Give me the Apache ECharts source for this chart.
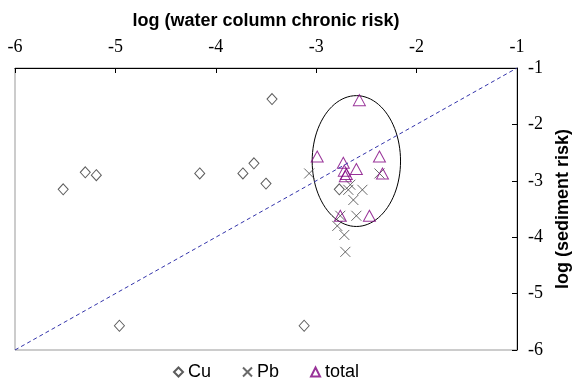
<!DOCTYPE html>
<html>
<head>
<meta charset="utf-8">
<script src="https://cdn.jsdelivr.net/npm/echarts@6/dist/echarts.min.js"></script>
</head>
<body style="margin:0">
<div id="main" style="width:574px;height:387px;"></div>
<script type="text/javascript">
// [log water column risk, log sediment risk]
var cuData = [
  [-5.52, -3.15], [-5.30, -2.85], [-5.19, -2.90], [-4.16, -2.87],
  [-3.73, -2.87], [-3.62, -2.69], [-3.50, -3.05], [-3.44, -1.55],
  [-4.96, -5.57], [-3.12, -5.57], [-2.77, -3.15]
];
var pbData = [
  [-3.07, -2.87], [-2.37, -2.87], [-2.66, -3.07], [-2.68, -3.16],
  [-2.54, -3.16], [-2.63, -3.34], [-2.60, -3.62], [-2.76, -3.62],
  [-2.79, -3.80], [-2.72, -3.96], [-2.71, -4.26]
];
var totalData = [
  [-2.57, -1.57], [-2.99, -2.57], [-2.73, -2.68], [-2.60, -2.79],
  [-2.37, -2.57], [-2.34, -2.87], [-2.72, -2.82], [-2.70, -2.88],
  [-2.71, -2.92], [-2.76, -3.62], [-2.47, -3.62]
];
var diagonal = [[-6, -6], [-1, -1]];
// center x, center y, radius x, radius y (data units)
var ellipse = [[-2.60, -2.65, 0.44, 1.16]];

var serif = '"Liberation Serif", "Times New Roman", serif';
var sans = '"Liberation Sans", Arial, sans-serif';

var myChart = echarts.init(document.getElementById('main'));

var option = {
  animation: false,
  backgroundColor: '#fff',
  grid: {
    left: 15, right: 57, top: 68, bottom: 37,
    outerBoundsMode: 'none',
    containLabel: false,
    show: true, borderColor: '#999', borderWidth: 1
  },
  legend: {
    bottom: 1,
    left: 168,
    itemWidth: 9,
    itemHeight: 9,
    itemGap: 31,
    textStyle: { fontFamily: sans, fontSize: 18, color: '#000' },
    data: ['Cu', 'Pb', 'total']
  },
  xAxis: {
    type: 'value',
    position: 'top',
    min: -6, max: -1, interval: 1,
    name: 'log (water column chronic risk)',
    nameLocation: 'middle',
    nameGap: 38,
    nameTextStyle: { fontFamily: sans, fontWeight: 'bold', fontSize: 18, color: '#000' },
    axisLine: { lineStyle: { color: '#000', width: 1 } },
    axisTick: { inside: true, length: 5, lineStyle: { color: '#000' } },
    axisLabel: { margin: 12, fontFamily: serif, fontSize: 18, color: '#000' },
    splitLine: { show: false }
  },
  yAxis: {
    type: 'value',
    position: 'right',
    min: -6, max: -1, interval: 1,
    name: 'log (sediment risk)',
    nameLocation: 'middle',
    nameRotate: 90,
    nameGap: 35,
    nameTextStyle: { fontFamily: sans, fontWeight: 'bold', fontSize: 18, color: '#000' },
    axisLine: { lineStyle: { color: '#000', width: 1 } },
    axisTick: { inside: true, length: 5, lineStyle: { color: '#000' } },
    axisLabel: { margin: 11, fontFamily: serif, fontSize: 18, color: '#000' },
    splitLine: { show: false }
  },
  series: [
    {
      name: 'diag',
      type: 'line',
      data: diagonal,
      symbol: 'none',
      silent: true,
      lineStyle: { color: '#3333aa', width: 1, type: [4, 3] }
    },
    {
      name: 'ellipse',
      type: 'custom',
      silent: true,
      data: ellipse,
      encode: { x: 0, y: 1 },
      renderItem: function (params, api) {
        var c = api.coord([api.value(0), api.value(1)]);
        var ex = api.coord([api.value(0) + api.value(2), api.value(1)]);
        var ey = api.coord([api.value(0), api.value(1) + api.value(3)]);
        var rx = Math.abs(ex[0] - c[0]);
        var ry = Math.abs(ey[1] - c[1]);
        var pts = [];
        for (var i = 0; i < 96; i++) {
          var t = i / 96 * Math.PI * 2;
          pts.push([c[0] + rx * Math.cos(t), c[1] + ry * Math.sin(t)]);
        }
        return {
          type: 'polygon',
          shape: { points: pts },
          style: { fill: 'none', stroke: '#000', lineWidth: 1 }
        };
      }
    },
    {
      name: 'Cu',
      type: 'scatter',
      data: cuData,
      symbol: 'diamond',
      symbolSize: [10, 11],
      itemStyle: { color: 'rgba(0,0,0,0)', borderColor: '#333', borderWidth: 1 }
    },
    {
      name: 'Pb',
      type: 'scatter',
      data: pbData,
      symbol: 'path://M0,0L10,10M10,0L0,10',
      symbolSize: 10,
      itemStyle: { color: 'rgba(0,0,0,0)', borderColor: '#444', borderWidth: 1 }
    },
    {
      name: 'total',
      type: 'scatter',
      data: totalData,
      symbol: 'triangle',
      symbolSize: [12, 11],
      itemStyle: { color: 'rgba(0,0,0,0)', borderColor: '#800080', borderWidth: 1 }
    }
  ]
};

myChart.setOption(option);
</script>
</body>
</html>
